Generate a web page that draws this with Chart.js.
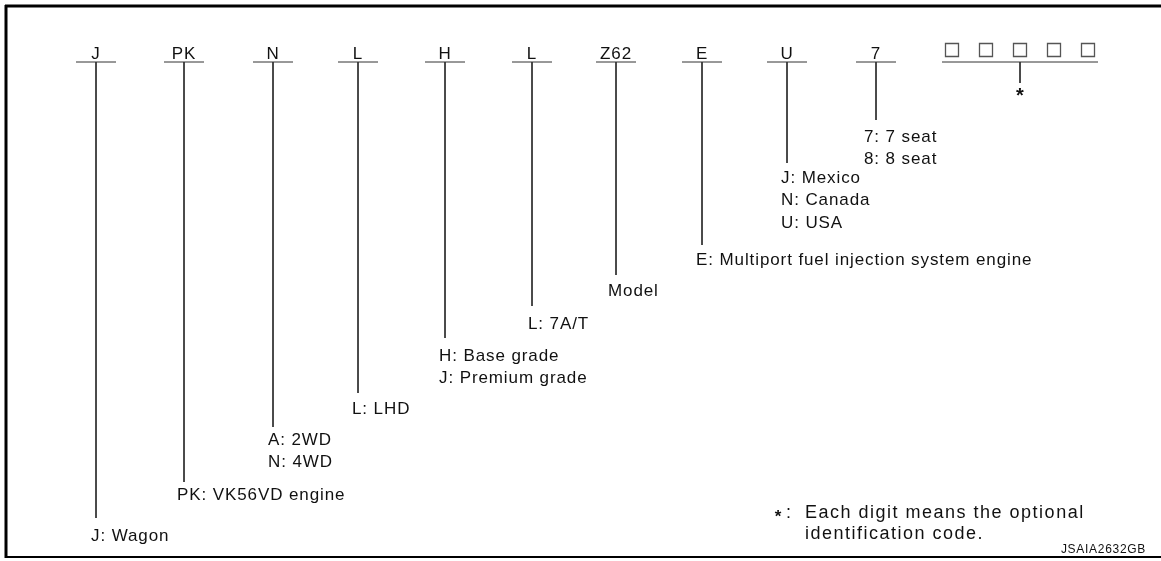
<!DOCTYPE html>
<html>
<head>
<meta charset="utf-8">
<script src="https://cdn.jsdelivr.net/npm/chart.js@4.4.1/dist/chart.umd.min.js"></script>
<style>
  body { margin: 0; background: #fff; }
  canvas { display: block; }
</style>
</head>
<body>
<canvas id="vinChart" width="1161" height="561"></canvas>
<script>
// Model designation segments
const codes = ['J', 'PK', 'N', 'L', 'H', 'L', 'Z62', 'E', 'U', '7'];
const codeX = [96, 184, 273, 358, 445, 532, 616, 702, 787, 876];
const stemEnd = [518, 482, 427, 393, 338, 306, 275, 245, 163, 120];
const labelX = [91, 177, 268, 352, 439, 528, 608, 696, 781, 864];
const labelY = [536, 495, 440, 409, 356, 324, 291, 260, 178, 137];
const descriptions = [
    ['J: Wagon'],
    ['PK: VK56VD engine'],
    ['A: 2WD', 'N: 4WD'],
    ['L: LHD'],
    ['H: Base grade', 'J: Premium grade'],
    ['L: 7A/T'],
    ['Model'],
    ['E: Multiport fuel injection system engine'],
    ['J: Mexico', 'N: Canada', 'U: USA'],
    ['7: 7 seat', '8: 8 seat']
];
// optional identification code
const optionBoxX = [952, 986, 1020, 1054, 1088];
const footnote = ['Each digit means the optional', 'identification code.'];
const figureId = 'JSAIA2632GB';

const baseY = 62;
const lineColor = '#333';

function seg(x1, y1, x2, y2, width) {
    return {
        type: 'line',
        data: [{ x: x1, y: y1 }, { x: x2, y: y2 }],
        borderColor: width > 1 ? '#000' : lineColor,
        borderWidth: width || 1,
        pointRadius: 0,
        fill: false,
        clip: false
    };
}

const datasets = [];
codes.forEach((c, i) => {
    datasets.push(seg(codeX[i] - 20, baseY, codeX[i] + 20, baseY));
    datasets.push(seg(codeX[i], baseY, codeX[i], stemEnd[i]));
});
datasets.push(seg(942, baseY, 1098, baseY));
datasets.push(seg(1020, baseY, 1020, 83));
// frame
datasets.push(seg(6, 5, 6, 558, 3));
datasets.push(seg(5, 6, 1161, 6, 3));
datasets.push(seg(5, 557, 1161, 557, 2));
datasets.push({
    type: 'scatter',
    data: optionBoxX.map(x => ({ x: x, y: 50 })),
    pointStyle: 'rect',
    pointRadius: 9.2,
    pointBorderColor: '#555',
    pointBorderWidth: 1.3,
    pointBackgroundColor: '#fff',
    clip: false
});

const textPlugin = {
    id: 'textPlugin',
    afterDatasetsDraw(chart) {
        const ctx = chart.ctx;
        const xs = chart.scales.x, ys = chart.scales.y;
        ctx.save();
        ctx.fillStyle = '#111';
        ctx.letterSpacing = '0.9px';
        ctx.font = '17px "Liberation Sans", Arial, sans-serif';

        // codes above the underlines
        ctx.textAlign = 'center';
        ctx.textBaseline = 'alphabetic';
        codes.forEach((c, i) => {
            ctx.fillText(c, xs.getPixelForValue(codeX[i]), ys.getPixelForValue(59));
        });

        // descriptions
        ctx.textAlign = 'left';
        ctx.textBaseline = 'middle';
        descriptions.forEach((lines, i) => {
            lines.forEach((t, j) => {
                ctx.fillText(t, xs.getPixelForValue(labelX[i]), ys.getPixelForValue(labelY[i] + j * 22.5));
            });
        });

        // footnote
        ctx.font = '18px "Liberation Sans", Arial, sans-serif';
        ctx.letterSpacing = '1.5px';
        footnote.forEach((t, j) => {
            ctx.fillText(t, xs.getPixelForValue(805), ys.getPixelForValue(513 + j * 21));
        });
        ctx.fillText(':', xs.getPixelForValue(786), ys.getPixelForValue(513));

        ctx.letterSpacing = '0px';
        ctx.font = 'bold 20px "Liberation Sans", Arial, sans-serif';
        ctx.textAlign = 'center';
        ctx.fillText('*', xs.getPixelForValue(1020), ys.getPixelForValue(96));
        ctx.font = 'bold 17px "Liberation Sans", Arial, sans-serif';
        ctx.fillText('*', xs.getPixelForValue(778), ys.getPixelForValue(517));

        ctx.font = '12px "Liberation Sans", Arial, sans-serif';
        ctx.letterSpacing = '0.7px';
        ctx.textAlign = 'right';
        ctx.fillText(figureId, xs.getPixelForValue(1146), ys.getPixelForValue(550));
        ctx.restore();
    }
};

new Chart(document.getElementById('vinChart').getContext('2d'), {
    type: 'line',
    data: { datasets: datasets },
    options: {
        responsive: false,
        animation: false,
        devicePixelRatio: 1,
        layout: { padding: 0, autoPadding: false },
        plugins: { legend: { display: false }, tooltip: { enabled: false } },
        scales: {
            x: { type: 'linear', min: 0, max: 1161, display: false },
            y: { type: 'linear', min: 0, max: 561, reverse: true, display: false }
        }
    },
    plugins: [textPlugin]
});
</script>
</body>
</html>
